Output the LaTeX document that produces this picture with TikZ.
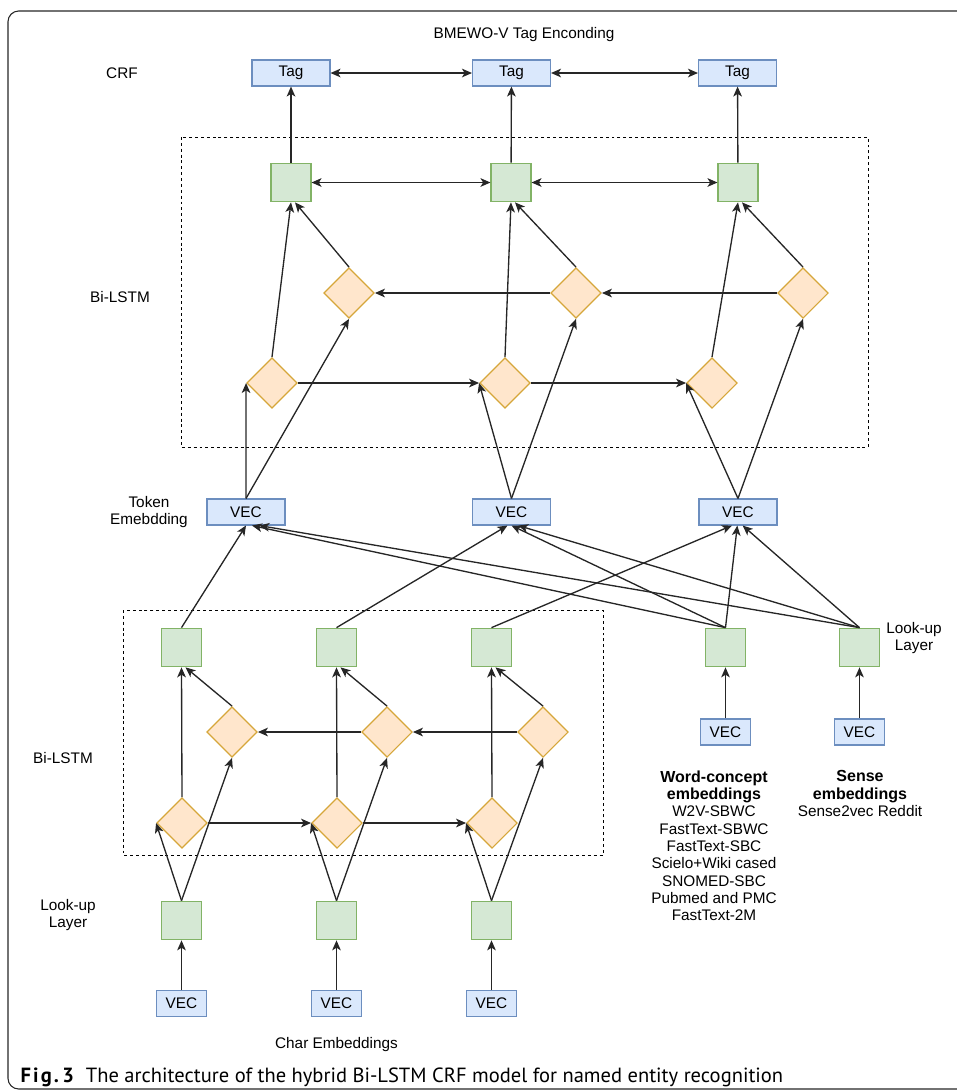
\documentclass[tikz,border=0pt]{standalone}
\usepackage{fontspec}
\setmainfont{Liberation Sans}
\newfontfamily\capfont{PT Sans}
\usetikzlibrary{arrows.meta,positioning,shapes.geometric}
\definecolor{tagblue}{HTML}{DAE8FC}
\definecolor{tagline}{HTML}{6C8EBF}
\definecolor{cellgreen}{HTML}{D5E8D4}
\definecolor{cellline}{HTML}{82B366}
\definecolor{gatefill}{HTML}{FFE6CC}
\definecolor{gateline}{RGB}{214,166,58}
\newcommand{\lbl}{\fontsize{11.5}{13}\selectfont}
\newcommand{\hd}[1]{{\fontsize{12}{13}\selectfont\bfseries #1}}

\begin{document}
\begin{tikzpicture}[x=0.75pt,y=-0.75pt,
        vecbox/.style={rectangle,draw=tagline,fill=tagblue,line width=0.8pt,
          minimum width=58.5pt,minimum height=19.5pt,inner sep=0pt,font=\lbl},
        smallvec/.style={vecbox,minimum width=38pt},
        cell/.style={rectangle,draw=cellline,fill=cellgreen,line width=0.8pt,
          minimum width=30pt,minimum height=29pt,inner sep=0pt},
        gate/.style={diamond,draw=gateline,fill=gatefill,line width=0.9pt,
          minimum width=38pt,minimum height=38pt,inner sep=0pt},
        arrow/.style={-{Stealth[length=7.5pt,width=6.5pt,inset=2pt]},line width=1pt,black!85},
        twoway/.style={{Stealth[length=7.5pt,width=6.5pt,inset=2pt]}-{Stealth[length=7.5pt,width=6.5pt,inset=2pt]},line width=1pt,black!85},
        group/.style={draw,line width=0.75pt,dash pattern=on 2.2pt off 2.2pt},
        txt/.style={font=\lbl,align=center}]
        \clip (0,0) rectangle (957,1090);
        \draw[line width=0.8pt,rounded corners=8pt,black!85] (8,11) rectangle (990,1089);
        \draw[group] (181,137) rectangle (868,447);
        \draw[group] (123,610) rectangle (603,855);

        \node[txt] (enc) at (524,35) {BMEWO-V Tag Enconding};
        \node[txt] (crf) at (122,73) {CRF};
        \node[txt] (bi1) at (120,297) {Bi-LSTM};
        \node[txt] (tokl) at (149,512) {Token\\Emebdding};
        \node[txt] (lkr) at (914,638) {Look-up\\Layer};
        \node[txt] (bi2) at (63,758) {Bi-LSTM};
        \node[txt] (lkl) at (68,915) {Look-up\\Layer};

        \node[vecbox] (tag1) at (291,73) {Tag};
        \node[vecbox] (tag2) at (511.5,73) {Tag};
        \node[vecbox] (tag3) at (737.5,73) {Tag};
        \node[cell] (gu1) at (291,182.5) {};
        \node[cell] (gu2) at (511,182.5) {};
        \node[cell] (gu3) at (738,182.5) {};
        \node[gate] (bu1) at (349,293) {};
        \node[gate] (bu2) at (576,293) {};
        \node[gate] (bu3) at (803,293) {};
        \node[gate] (fu1) at (272,383) {};
        \node[gate] (fu2) at (505,383) {};
        \node[gate] (fu3) at (712,383) {};
        \node[vecbox] (tok1) at (246,512) {VEC};
        \node[vecbox] (tok2) at (511.5,512) {VEC};
        \node[vecbox] (tok3) at (738,512) {VEC};

        \node[cell] (ch1) at (181.5,647.5) {};
        \node[cell] (ch2) at (336.5,647.5) {};
        \node[cell] (ch3) at (491.5,647.5) {};
        \node[cell] (gw) at (725.5,647.5) {};
        \node[cell] (gs) at (859.5,647.5) {};
        \node[gate] (bl1) at (232,732) {};
        \node[gate] (bl2) at (387,732) {};
        \node[gate] (bl3) at (543,732) {};
        \node[gate] (fl1) at (182,823) {};
        \node[gate] (fl2) at (337,823) {};
        \node[gate] (fl3) at (492,823) {};
        \node[cell] (lk1) at (181.5,920.5) {};
        \node[cell] (lk2) at (336.5,920.5) {};
        \node[cell] (lk3) at (491.5,920.5) {};
        \node[smallvec] (cv1) at (181.5,1003.5) {VEC};
        \node[smallvec] (cv2) at (336.5,1003.5) {VEC};
        \node[smallvec] (cv3) at (491.5,1003.5) {VEC};
        \node[txt,below=12pt of cv2] (chr) {Char Embeddings};
        \node[smallvec] (vw) at (725.5,732) {VEC};
        \node[smallvec] (vs) at (859.5,732) {VEC};
        \node[txt,anchor=north] (wrd) at (714,766) {\hd{Word-concept}\\\hd{embeddings}\\W2V-SBWC\\FastText-SBWC\\FastText-SBC\\Scielo+Wiki cased\\SNOMED-SBC\\Pubmed and PMC\\FastText-2M};
        \node[txt,anchor=north] (sns) at (860,766) {\hd{Sense}\\\hd{embeddings}\\Sense2vec Reddit};

        \node[anchor=west,font=\capfont\fontsize{15.4}{17}\selectfont] (cap) at (16,1077)
          {{\bfseries\addfontfeature{LetterSpace=10}Fig.\,3}\hspace{9pt}The architecture of the hybrid Bi-LSTM CRF model for named entity recognition};

        \draw[twoway] (tag1) -- (tag2);
        \draw[twoway] (tag2) -- (tag3);
        \draw[twoway] (gu1) -- (gu2);
        \draw[twoway] (gu2) -- (gu3);
        \draw[arrow] (gu1) -- (tag1);
        \draw[arrow] (gu2) -- (tag2);
        \draw[arrow] (gu3) -- (tag3);
        \draw[arrow] (fu1.north) -- (gu1.south);
        \draw[arrow] (fu2.north) -- (gu2.south);
        \draw[arrow] (fu3.north) -- (gu3.south);
        \draw[arrow] (bu1.north) -- ([xshift=3pt]gu1.south);
        \draw[arrow] (bu2.north) -- ([xshift=3pt]gu2.south);
        \draw[arrow] (bu3.north) -- ([xshift=3pt]gu3.south);
        \draw[arrow] (fu1.east) -- (fu2.west);
        \draw[arrow] (fu2.east) -- (fu3.west);
        \draw[arrow] (bu3.west) -- (bu2.east);
        \draw[arrow] (bu2.west) -- (bu1.east);
        \draw[arrow] (tok1.north) -- (fu1.west);
        \draw[arrow] (tok1.north) -- (bu1.south);
        \draw[arrow] (tok2.north) -- (fu2.west);
        \draw[arrow] (tok2.north) -- (bu2.south);
        \draw[arrow] (tok3.north) -- (fu3.west);
        \draw[arrow] (tok3.north) -- (bu3.south);

        \draw[arrow] (ch1.north) -- (tok1.south);
        \draw[arrow] (ch2.north) -- ([xshift=-3pt]tok2.south);
        \draw[arrow] (ch3.north) -- ([xshift=-4.5pt]tok3.south);
        \draw[arrow] (gw.north) -- ([xshift=4.5pt]tok1.south);
        \draw[arrow] (gs.north) -- ([xshift=10pt]tok1.south);
        \draw[arrow] (gw.north) -- (tok2.south);
        \draw[arrow] (gs.north) -- ([xshift=5pt]tok2.south);
        \draw[arrow] (gw.north) -- ([xshift=-0.5pt]tok3.south);
        \draw[arrow] (gs.north) -- ([xshift=3.5pt]tok3.south);
        \draw[arrow] (vw) -- (gw);
        \draw[arrow] (vs) -- (gs);

        \draw[arrow] (fl1.north) -- (ch1.south);
        \draw[arrow] (fl2.north) -- (ch2.south);
        \draw[arrow] (fl3.north) -- (ch3.south);
        \draw[arrow] (bl1.north) -- ([xshift=3pt]ch1.south);
        \draw[arrow] (bl2.north) -- ([xshift=3pt]ch2.south);
        \draw[arrow] (bl3.north) -- ([xshift=3pt]ch3.south);
        \draw[arrow] (fl1.east) -- (fl2.west);
        \draw[arrow] (fl2.east) -- (fl3.west);
        \draw[arrow] (bl3.west) -- (bl2.east);
        \draw[arrow] (bl2.west) -- (bl1.east);
        \draw[arrow] (lk1.north) -- (fl1.west);
        \draw[arrow] (lk1.north) -- (bl1.south);
        \draw[arrow] (lk2.north) -- (fl2.west);
        \draw[arrow] (lk2.north) -- (bl2.south);
        \draw[arrow] (lk3.north) -- (fl3.west);
        \draw[arrow] (lk3.north) -- (bl3.south);
        \draw[arrow] (cv1) -- (lk1);
        \draw[arrow] (cv2) -- (lk2);
        \draw[arrow] (cv3) -- (lk3);
      \end{tikzpicture}
\end{document}
